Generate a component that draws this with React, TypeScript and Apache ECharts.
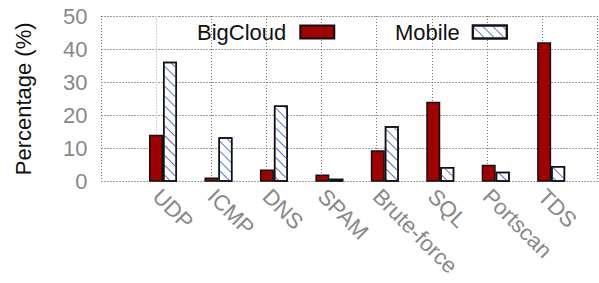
import React, { useEffect, useRef } from "react";
import * as echarts from "echarts";

const categories = ["UDP", "ICMP", "DNS", "SPAM", "Brute-force", "SQL", "Portscan", "TDS"];
const bigCloud = [14.2, 1.3, 3.7, 2.2, 9.5, 24.1, 5.1, 42.1];
const mobile = [36.2, 13.4, 23.0, 0.9, 16.7, 4.4, 3.0, 4.7];
const yTicks = [0, 10, 20, 30, 40, 50];

export default function App() {
  const ref = useRef<HTMLDivElement>(null);
  useEffect(() => {
    if (!ref.current) return;
    const chart = echarts.init(ref.current, undefined, { renderer: "svg" });
    const font = "Liberation Sans, Arial, Helvetica, sans-serif";
    const gridTop = 16;
    const gridHeight = 165.7;
    const spacing = 55.45;
    chart.setOption({
      animation: false,
      textStyle: { fontFamily: font },
      grid: [
        { left: 157 - spacing, width: spacing * 9, top: gridTop, height: gridHeight },
        { left: 163 - spacing / 2, width: spacing * 8, top: gridTop, height: gridHeight },
      ],
      legend: [
        {
          data: ["BigCloud"],
          left: 197,
          top: 21,
          padding: 0,
          align: "right",
          icon: "rect",
          itemWidth: 34,
          itemHeight: 13,
          textStyle: { fontSize: 22, color: "#111", fontFamily: font, padding: [0, 9, 0, 0] },
        },
        {
          data: ["Mobile"],
          left: 395,
          top: 21,
          padding: 0,
          align: "right",
          icon: "rect",
          itemWidth: 34,
          itemHeight: 13,
          textStyle: { fontSize: 22, color: "#111", fontFamily: font, padding: [0, 8, 0, 0] },
        },
      ],
      xAxis: [
        {
          type: "value",
          gridIndex: 0,
          min: -1,
          max: 8,
          interval: 1,
          axisLine: { show: false },
          axisTick: { show: false },
          splitLine: { show: true, lineStyle: { color: "#777", width: 1, type: [1, 2] } },
          axisLabel: {
            rotate: -45,
            margin: 11,
            fontSize: 22,
            color: "#888",
            fontFamily: font,
            formatter: (v: number) => categories[v] ?? "",
          },
        },
        {
          type: "category",
          gridIndex: 1,
          data: categories,
          axisLine: { show: false },
          axisTick: { show: false },
          axisLabel: { show: false },
          splitLine: { show: false },
        },
      ],
      yAxis: [
        {
          type: "value",
          gridIndex: 0,
          min: 0,
          max: 50,
          interval: 10,
          name: "Percentage (%)",
          nameLocation: "middle",
          nameGap: 67,
          nameTextStyle: { fontSize: 22, color: "#111", fontFamily: font },
          axisLine: { show: true, lineStyle: { color: "#ccc", type: [1, 2] } },
          axisTick: { show: false },
          splitLine: { show: true, lineStyle: { color: "#444", width: 1, type: [1, 2] } },
          axisLabel: {
            margin: 14,
            fontSize: 22,
            color: "#888",
            fontFamily: font,
            formatter: (v: number) => (yTicks.includes(v) ? String(v) : ""),
          },
        },
        {
          type: "value",
          gridIndex: 1,
          min: 0,
          max: 50,
          interval: 10,
          show: false,
          splitLine: { show: false },
        },
      ],
      series: [
        {
          name: "BigCloud",
          type: "bar",
          xAxisIndex: 1,
          yAxisIndex: 1,
          data: bigCloud,
          barWidth: 14,
          barGap: "0%",
          itemStyle: { color: "#a00000", borderColor: "#111", borderWidth: 1.5 },
        },
        {
          name: "Mobile",
          type: "bar",
          xAxisIndex: 1,
          yAxisIndex: 1,
          data: mobile,
          barWidth: 14,
          barGap: "0%",
          itemStyle: {
            color: "#ffffff",
            borderColor: "#111",
            borderWidth: 1.5,
            decal: {
              symbol: "rect",
              color: "#5a70e0",
              dashArrayX: [1, 0],
              dashArrayY: [1, 6],
              rotation: Math.PI / 4,
            },
          },
        },
      ],
    });
    return () => chart.dispose();
  }, []);
  return (
    <div
      ref={ref}
      style={{ position: "absolute", left: 0, top: 0, width: 599, height: 283 }}
    />
  );
}
